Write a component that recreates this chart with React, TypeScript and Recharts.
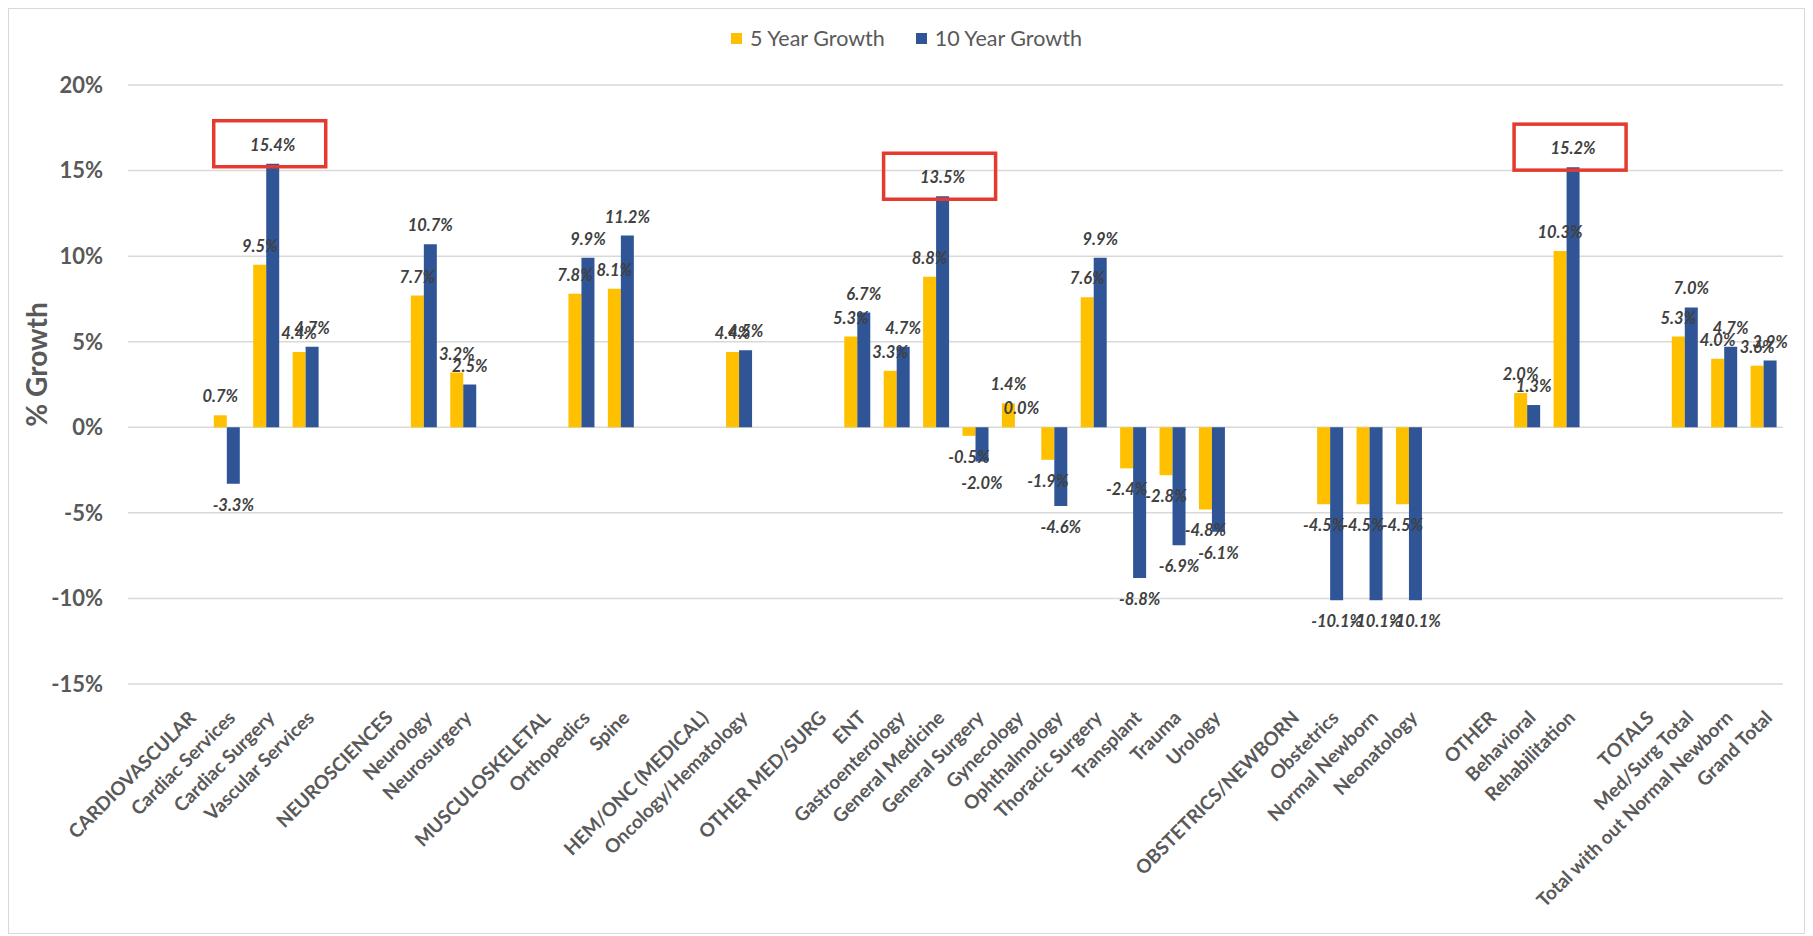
import React from "react";
import { BarChart, Bar, XAxis, YAxis, CartesianGrid, LabelList } from "recharts";

const categories: string[] = [
  "", "CARDIOVASCULAR", "Cardiac Services", "Cardiac Surgery", "Vascular Services",
  "", "NEUROSCIENCES", "Neurology", "Neurosurgery",
  "", "MUSCULOSKELETAL", "Orthopedics", "Spine",
  "", "HEM/ONC (MEDICAL)", "Oncology/Hematology",
  "", "OTHER MED/SURG", "ENT", "Gastroenterology", "General Medicine", "General Surgery", "Gynecology",
  "Ophthalmology", "Thoracic Surgery", "Transplant", "Trauma", "Urology",
  "", "OBSTETRICS/NEWBORN", "Obstetrics", "Normal Newborn", "Neonatology",
  "", "OTHER", "Behavioral", "Rehabilitation",
  "", "TOTALS", "Med/Surg Total", "Total with out Normal Newborn", "Grand Total",
];

const fiveYearGrowth: (number | null)[] = [
  null, null, 0.7, 9.5, 4.4,
  null, null, 7.7, 3.2,
  null, null, 7.8, 8.1,
  null, null, 4.4,
  null, null, 5.3, 3.3, 8.8, -0.5, 1.4, -1.9, 7.6, -2.4, -2.8, -4.8,
  null, null, -4.5, -4.5, -4.5,
  null, null, 2.0, 10.3,
  null, null, 5.3, 4.0, 3.6,
];

const tenYearGrowth: (number | null)[] = [
  null, null, -3.3, 15.4, 4.7,
  null, null, 10.7, 2.5,
  null, null, 9.9, 11.2,
  null, null, 4.5,
  null, null, 6.7, 4.7, 13.5, -2.0, 0.0, -4.6, 9.9, -8.8, -6.9, -6.1,
  null, null, -10.1, -10.1, -10.1,
  null, null, 1.3, 15.2,
  null, null, 7.0, 4.7, 3.9,
];

const yTicks: number[] = [-15, -10, -5, 0, 5, 10, 15, 20];
const highlighted: string[] = ["Cardiac Surgery", "General Medicine", "Rehabilitation"];

const seriesNames = ["5 Year Growth", "10 Year Growth"];
const colors = ["#FFC000", "#2F5597"];

const data = categories.map((name, i) => ({
  id: i,
  name,
  five: fiveYearGrowth[i],
  ten: tenYearGrowth[i],
  boxed: highlighted.includes(name) ? tenYearGrowth[i] : null,
  tenZero: tenYearGrowth[i] === 0 ? tenYearGrowth[i] : null,
}));

const FONT = "Lato, 'Open Sans', sans-serif";
const AXIS_COLOR = "#595959";

const labelText = (cx: number, ty: number, value: number) => (
  <text
    x={cx}
    y={ty}
    textAnchor="middle"
    fontFamily={FONT}
    fontSize={16.5}
    fontStyle="italic"
    fontWeight={700}
    fill="#404040"
  >
    {value.toFixed(1) + "%"}
  </text>
);

const ValueLabel = (props: any) => {
  const { x, y, width, height, value } = props;
  if (value === null || value === undefined) return null;
  const top = Math.min(y, y + height);
  const bottom = Math.max(y, y + height);
  const cx = x + width / 2;
  const ty = value >= 0 ? top - 13 : bottom + 27;
  return labelText(cx, ty, value);
};

// label for a zero-height 10-year bar, drawn next to the paired 5-year bar
const ZeroNeighbourLabel = (props: any) => {
  const { x, y, width, height, value } = props;
  if (value === null || value === undefined) return null;
  const zeroY = Math.max(y, y + height);
  return labelText(x + width * 1.5, zeroY - 13, value);
};

const BoxLabel = (props: any) => {
  const { x, y, width, height, value } = props;
  if (value === null || value === undefined) return null;
  const top = Math.min(y, y + height);
  const cx = x + width / 2 - 3;
  return <rect x={cx - 56} y={top - 43} width={112} height={46} fill="none" stroke="#E53A2F" strokeWidth={3.5} />;
};

const XTick = (props: any) => {
  const { x, y, payload } = props;
  const label = categories[payload.value] || "";
  if (!label) return null;
  return (
    <g transform={`translate(${x + 10},${y + 27})`}>
      <text
        transform="rotate(-45)"
        textAnchor="end"
        fontFamily={FONT}
        fontSize={19}
        fontWeight={700}
        fill={AXIS_COLOR}
      >
        {label}
      </text>
    </g>
  );
};

const YTitle = (props: any) => {
  const { viewBox } = props;
  const cy = viewBox.y + viewBox.height / 2 - 20;
  const cx = 27;
  return (
    <text
      x={cx}
      y={cy}
      transform={`rotate(-90, ${cx}, ${cy})`}
      textAnchor="middle"
      dominantBaseline="central"
      fontFamily={FONT}
      fontSize={28}
      fontWeight={700}
      fill={AXIS_COLOR}
    >
      % Growth
    </text>
  );
};

export default function App() {
  return (
    <div style={{ position: "relative", width: 1795, height: 924, border: "1px solid #d9d9d9", background: "#fff" }}>
      <div
        style={{
          position: "absolute",
          top: 17,
          left: 0,
          width: 1795,
          display: "flex",
          justifyContent: "center",
          alignItems: "center",
          fontFamily: FONT,
          fontSize: 21.5,
          lineHeight: "24px",
          color: AXIS_COLOR,
        }}
      >
        {seriesNames.map((n, i) => (
          <div key={n} style={{ display: "flex", alignItems: "center", marginRight: i === 0 ? 31 : 0 }}>
            <div style={{ width: 11, height: 11, background: colors[i], marginRight: 8 }} />
            <span>{n}</span>
          </div>
        ))}
      </div>
      <BarChart
        width={1795}
        height={924}
        data={data}
        margin={{ top: 76, right: 21, left: 0, bottom: 9 }}
        barGap={0}
        barSize={13}
      >
        <CartesianGrid vertical={false} stroke="#d9d9d9" strokeWidth={1.5} />
        <XAxis
          dataKey="id"
          type="category"
          interval={0}
          height={240}
          axisLine={false}
          tickLine={false}
          tick={<XTick />}
        />
        <YAxis
          width={119}
          domain={[-15, 20]}
          ticks={yTicks}
          allowDataOverflow
          axisLine={false}
          tickLine={false}
          tickSize={0}
          tickMargin={25}
          tickFormatter={(v: number) => `${v}%`}
          tick={{ fontFamily: FONT, fontSize: 22, fontWeight: 700, fill: AXIS_COLOR }}
          label={<YTitle />}
        />
        <Bar dataKey="five" name={seriesNames[0]} fill={colors[0]} isAnimationActive={false}>
          <LabelList dataKey="five" content={<ValueLabel />} />
          <LabelList dataKey="tenZero" content={<ZeroNeighbourLabel />} />
        </Bar>
        <Bar dataKey="ten" name={seriesNames[1]} fill={colors[1]} isAnimationActive={false}>
          <LabelList dataKey="ten" content={<ValueLabel />} />
          <LabelList dataKey="boxed" content={<BoxLabel />} />
        </Bar>
      </BarChart>
    </div>
  );
}
